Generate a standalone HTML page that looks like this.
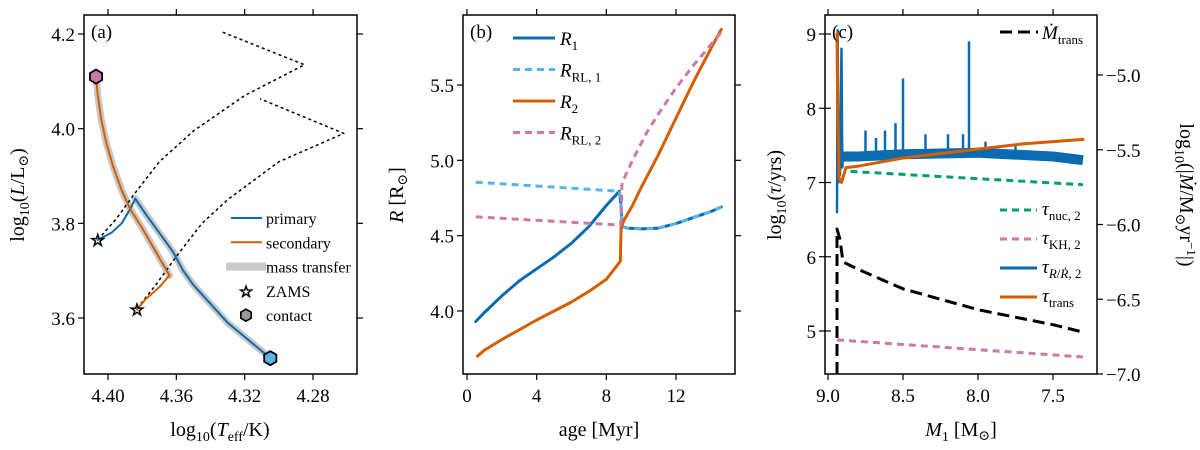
<!DOCTYPE html>
<html><head><meta charset="utf-8"><style>
body{margin:0;background:#fff}
svg{display:block}
text{font-family:"Liberation Serif","DejaVu Serif",serif;fill:#000}
</style></head><body>
<svg id="fig" width="1200" height="450" viewBox="0 0 1200 450" xmlns="http://www.w3.org/2000/svg"></svg>
<script>
// ---------- Panel (a) data ----------
const aPrimTeff=[4.406,4.398,4.392,4.387,4.384,4.378,4.370,4.362,4.356,4.350,4.340,4.330,4.320,4.310,4.305];
const aPrimL=[3.765,3.78,3.80,3.83,3.852,3.82,3.78,3.74,3.70,3.67,3.63,3.59,3.56,3.53,3.515];
const aSecTeff=[4.383,4.378,4.370,4.364,4.372,4.380,4.387,4.392,4.397,4.401,4.404,4.406,4.407];
const aSecL=[3.618,3.64,3.665,3.69,3.74,3.79,3.83,3.87,3.92,3.97,4.02,4.07,4.11];
const aDot1Teff=[4.406,4.395,4.385,4.37,4.35,4.32,4.285,4.333];
const aDot1L=[3.765,3.81,3.86,3.93,3.995,4.07,4.135,4.204];
const aDot2Teff=[4.383,4.372,4.36,4.345,4.33,4.30,4.262,4.311];
const aDot2L=[3.62,3.67,3.73,3.80,3.85,3.93,3.99,4.063];
const aXTicks=[4.40,4.36,4.32,4.28];
const aYTicks=[3.6,3.8,4.0,4.2];
// ---------- Panel (b) data ----------
const bR1Age=[0.5,1,2,3,4,5,6,7,8,8.75,8.85,8.9,9.2,10,11,12,13,14,14.6];
const bR1=[3.93,3.99,4.10,4.20,4.28,4.36,4.45,4.56,4.70,4.795,4.70,4.56,4.55,4.545,4.55,4.58,4.62,4.66,4.69];
const bRL1Age=[0.5,8.75,8.85,8.9,9.2,10,11,12,13,14,14.6];
const bRL1=[4.855,4.795,4.70,4.56,4.55,4.545,4.55,4.58,4.62,4.66,4.69];
const bR2Age=[0.6,1,2,4,6,7,8,8.8,8.85,9.0,9.5,10,11,12,13,14,14.6];
const bR2=[3.70,3.74,3.81,3.94,4.06,4.13,4.21,4.33,4.55,4.60,4.70,4.82,5.04,5.28,5.52,5.74,5.87];
const bRL2Age=[0.5,8.8,8.85,8.9,9.5,10.3,11,12,13,14.6];
const bRL2=[4.625,4.57,4.6,4.85,5.0,5.18,5.31,5.48,5.63,5.85];
const bXTicks=[0,4,8,12];
const bYTicks=[4.0,4.5,5.0,5.5];
// ---------- Panel (c) data ----------
const cNucM=[8.85,7.3];
const cNuc=[7.15,6.97];
const cKHM=[8.94,7.3];
const cKH=[4.88,4.65];
const cTransM=[8.94,8.935,8.925,8.91,8.88,8.8,8.5,8.0,7.7,7.3];
const cTrans=[9.0,8.0,7.05,7.0,7.2,7.22,7.33,7.45,7.52,7.58];
const cRM=[8.94,8.935,8.93,8.925,8.92,8.91,8.905,8.9];
const cR=[6.6,9.05,7.0,7.5,7.1,8.8,7.2,7.35];
const cBandM=[8.9,8.8,8.5,8.0,7.5,7.3];
const cBand=[7.35,7.35,7.38,7.4,7.35,7.3];
const cSpikeM=[8.75,8.68,8.62,8.55,8.5,8.35,8.2,8.1,8.06,7.95,7.75];
const cSpikeV=[7.7,7.6,7.7,7.8,8.4,7.65,7.65,7.65,8.9,7.55,7.5];
const cMdotM=[8.94,8.94,8.92,8.9,8.8,8.5,8.0,7.5,7.3];
const cMdot=[-7.0,-6.03,-6.1,-6.25,-6.3,-6.43,-6.57,-6.67,-6.72];
const cXTicks=[9.0,8.5,8.0,7.5];
const cYTicks=[5,6,7,8,9];
const cY2Ticks=[-7.0,-6.5,-6.0,-5.5,-5.0];

const NS="http://www.w3.org/2000/svg";
const svg=document.getElementById('fig');
function el(tag,attrs,parent){const e=document.createElementNS(NS,tag);for(const k in attrs)e.setAttribute(k,attrs[k]);(parent||svg).appendChild(e);return e;}
function lin(d0,d1,p0,p1){return v=>p0+(v-d0)/(d1-d0)*(p1-p0);}
function pathD(xs,ys,sx,sy){return xs.map((x,i)=>(i?'L':'M')+sx(x).toFixed(1)+','+sy(ys[i]).toFixed(1)).join('');}
function frame(x0,y0,x1,y1,name){
  const r=el('rect',{x:x0,y:y0,width:x1-x0,height:y1-y0,fill:'none',stroke:'#000','stroke-width':1.5});
  
  
}
function xticks(vals,sx,y0,y1,fmt,name){
  vals.forEach(v=>{const x=sx(v);
    el('line',{x1:x,x2:x,y1:y0,y2:y0-6,stroke:'#000','stroke-width':1.2});
    el('line',{x1:x,x2:x,y1:y1,y2:y1+6,stroke:'#000','stroke-width':1.2});
    const t=el('text',{x:x,y:y1+28,'font-size':19,'text-anchor':'middle'});t.textContent=fmt(v);
    
    
  });
}
function yticks(vals,sy,x0,x1,fmt,name,labelRight){
  vals.forEach(v=>{const y=sy(v);
    el('line',{x1:x0,x2:x0-6,y1:y,y2:y,stroke:'#000','stroke-width':1.2});
    el('line',{x1:x1,x2:x1+6,y1:y,y2:y,stroke:'#000','stroke-width':1.2});
    if(fmt){const t=el('text',{x:labelRight?x1+10:x0-9,y:y+7,'font-size':19,'text-anchor':labelRight?'start':'end'});t.textContent=fmt(v);
    
    }
  });
}
function line(xs,ys,sx,sy,color,w,dash,name,extra){
  const p=el('path',Object.assign({d:pathD(xs,ys,sx,sy),fill:'none',stroke:color,'stroke-width':w,'stroke-linejoin':'round','stroke-linecap':dash?'butt':'round'},dash?{'stroke-dasharray':dash}:{},extra||{}));
  
  
  return p;
}
function label(x,y,html,size,name,rot,anchor){
  const t=el('text',{x:x,y:y,'font-size':size,'text-anchor':anchor||'middle'});
  if(rot)t.setAttribute('transform','rotate('+rot+' '+x+' '+y+')');
  t.innerHTML=html;
  
  
  return t;
}
const BLUE='#0a6bb0',ORANGE='#d55e00',LBLUE='#56b4e9',PINK='#cc79a7',GREEN='#009e73',GRAY='#c8c8c8';

// ================= Panel (a) =================
{
const X0=84,X1=357,Y0=15,Y1=374;
const sx=lin(4.40,4.28,108,313), sy=lin(3.6,4.2,318,34);
const clip=el('clipPath',{id:'ca'});el('rect',{x:X0,y:Y0,width:X1-X0,height:Y1-Y0},clip);
const g=el('g',{'clip-path':'url(#ca)'});


let p=line(aPrimTeff.slice(4),aPrimL.slice(4),sx,sy,GRAY,7,null,'primary-mass-transfer-band');g.appendChild(p);
p=line(aSecTeff.slice(3),aSecL.slice(3),sx,sy,GRAY,7,null,'secondary-mass-transfer-band');g.appendChild(p);
p=line(aDot1Teff,aDot1L,sx,sy,'#000',1.5,'3,3','primary-dotted-track');g.appendChild(p);
p=line(aDot2Teff,aDot2L,sx,sy,'#000',1.5,'3,3','secondary-dotted-track');g.appendChild(p);
p=line(aPrimTeff,aPrimL,sx,sy,BLUE,2,null,'primary-track');g.appendChild(p);
p=line(aSecTeff,aSecL,sx,sy,ORANGE,2,null,'secondary-track');g.appendChild(p);
function hex(cx,cy,fill,name){const pts=[];for(let i=0;i<6;i++){const a=Math.PI/3*i+Math.PI/6;pts.push((cx+7*Math.cos(a)).toFixed(1)+','+(cy+7*Math.sin(a)).toFixed(1));}
 const h=el('polygon',{points:pts.join(' '),fill:fill,stroke:'#000','stroke-width':1.8},g);
 
 }
function star(cx,cy,name){const s=el('text',{x:cx,y:cy+6,'font-size':17,'text-anchor':'middle'},g);s.textContent='☆';s.setAttribute('stroke','#000');s.setAttribute('stroke-width','1');
 
 }
hex(sx(aSecTeff[aSecTeff.length-1]),sy(aSecL[aSecL.length-1]),PINK,'secondary-contact-marker');
hex(sx(aPrimTeff[aPrimTeff.length-1]),sy(aPrimL[aPrimL.length-1]),LBLUE,'primary-contact-marker');
star(sx(aPrimTeff[0]),sy(aPrimL[0]),'primary-zams-marker');
star(sx(aSecTeff[0]),sy(aSecL[0]),'secondary-zams-marker');
frame(X0,Y0,X1,Y1,'panel-a');
xticks(aXTicks,sx,Y0,Y1,v=>v.toFixed(2),'panel-a-x');
yticks(aYTicks,sy,X0,X1,v=>v.toFixed(1),'panel-a-y');
label(91,38,'(a)',19,'panel-a-label',0,'start');
label(220,436,'log<tspan font-size="14" dy="5">10</tspan><tspan dy="-5">(</tspan><tspan font-style="italic">T</tspan><tspan font-size="14" dy="5">eff</tspan><tspan dy="-5">/K)</tspan>',20,'panel-a-x-title');
label(24,195,'log<tspan font-size="14" dy="5">10</tspan><tspan dy="-5">(</tspan><tspan font-style="italic">L</tspan>/L<tspan font-size="14" dy="4">⊙</tspan><tspan dy="-4">)</tspan>',20,'panel-a-y-title',-90);
const lg=el('g',{});
const items=[['primary','line',BLUE],['secondary','line',ORANGE],['mass transfer','band',GRAY],['ZAMS','star'],['contact','hex']];
items.forEach((it,i)=>{const y=218+i*24.3;
 if(it[1]==='line'){el('line',{x1:231,x2:262,y1:y,y2:y,stroke:it[2],'stroke-width':2},lg);}
 else if(it[1]==='band'){el('rect',{x:226,y:y-4,width:40,height:8,fill:GRAY},lg);}
 else if(it[1]==='star'){const s=el('text',{x:246,y:y+6,'font-size':16,'text-anchor':'middle','stroke':'#000','stroke-width':1},lg);s.textContent='☆';}
 else {const pts=[];for(let k=0;k<6;k++){const a=Math.PI/3*k+Math.PI/6;pts.push((246+6*Math.cos(a)).toFixed(1)+','+(y+6*Math.sin(a)).toFixed(1));}el('polygon',{points:pts.join(' '),fill:'#999',stroke:'#000','stroke-width':1.6},lg);}
 const t=el('text',{x:266,y:y+6,'font-size':16},lg);t.textContent=it[0];
 
 
});
}

// ================= Panel (b) =================
{
const X0=463,X1=735,Y0=15,Y1=374;
const sx=lin(0,12,467,676), sy=lin(4.0,5.5,311,85);
frame(X0,Y0,X1,Y1,'panel-b');
line(bR1Age,bR1,sx,sy,BLUE,3,null,'r1-line');
line(bRL1Age,bRL1,sx,sy,LBLUE,3,'7,5','rl1-line');
line(bR2Age,bR2,sx,sy,ORANGE,3,null,'r2-line');
line(bRL2Age,bRL2,sx,sy,PINK,3,'7,5','rl2-line');
xticks(bXTicks,sx,Y0,Y1,v=>String(v),'panel-b-x');
yticks(bYTicks,sy,X0,X1,v=>v.toFixed(1),'panel-b-y');
label(470,38,'(b)',19,'panel-b-label',0,'start');
label(599,436,'age [Myr]',20,'panel-b-x-title');
label(403,195,'<tspan font-style="italic">R</tspan> [R<tspan font-size="14" dy="4">⊙</tspan><tspan dy="-4">]</tspan>',20,'panel-b-y-title',-90);
const lg=el('g',{});
const items=[['R','1',BLUE,null],['R','RL, 1',LBLUE,'7,5'],['R','2',ORANGE,null],['R','RL, 2',PINK,'7,5']];
items.forEach((it,i)=>{const y=38+i*31.5;
 const l=el('line',{x1:513,x2:555,y1:y,y2:y,stroke:it[2],'stroke-width':3},lg);if(it[3])l.setAttribute('stroke-dasharray',it[3]);
 const t=el('text',{x:560,y:y+7,'font-size':19},lg);t.innerHTML='<tspan font-style="italic">'+it[0]+'</tspan><tspan font-size="13" dy="5">'+it[1]+'</tspan>';
 
 
});
}

// ================= Panel (c) =================
{
const X0=825,X1=1097,Y0=15,Y1=374;
const sx=lin(9.0,7.5,828,1053), sy=lin(5,9,331,34), sy2=lin(-7.0,-5.0,374,75);
const clip=el('clipPath',{id:'cc'});el('rect',{x:X0,y:Y0,width:X1-X0,height:Y1-Y0},clip);
const g=el('g',{'clip-path':'url(#cc)'});


g.appendChild(line(cNucM,cNuc,sx,sy,GREEN,3,'7,5','tau-nuc-line'));
g.appendChild(line(cKHM,cKH,sx,sy,PINK,3,'7,5','tau-kh-line'));
g.appendChild(line(cRM,cR,sx,sy,BLUE,2.5,null,'tau-r-line'));
g.appendChild(line(cBandM,cBand,sx,sy,BLUE,10,null,'tau-r-band',{'stroke-linecap':'butt'}));
cSpikeM.forEach((m,i)=>{
 let j=0;while(j<cBandM.length-1&&cBandM[j+1]>m)j++;
 const f=(m-cBandM[j])/(cBandM[j+1]-cBandM[j]);const base=cBand[j]+f*(cBand[j+1]-cBand[j]);
 const s=el('line',{x1:sx(m),x2:sx(m),y1:sy(base),y2:sy(cSpikeV[i]),stroke:BLUE,'stroke-width':2.5},g);
 
 
});
g.appendChild(line(cTransM,cTrans,sx,sy,ORANGE,3,null,'tau-trans-line'));
g.appendChild(line(cMdotM,cMdot,sx,sy2,'#000',3,'12,6','mdot-trans-line'));
frame(X0,Y0,X1,Y1,'panel-c');
xticks(cXTicks,sx,Y0,Y1,v=>v.toFixed(1),'panel-c-x');
yticks(cYTicks,sy,X0,X0,v=>String(v),'panel-c-y');
cY2Ticks.forEach(v=>{const y=sy2(v);
 el('line',{x1:X1,x2:X1+6,y1:y,y2:y,stroke:'#000','stroke-width':1.2});
 const t=el('text',{x:X1+9,y:y+7,'font-size':19});t.textContent='−'+Math.abs(v).toFixed(1);
 
 });
label(832,38,'(c)',19,'panel-c-label',0,'start');
label(961,436,'<tspan font-style="italic">M</tspan><tspan font-size="14" dy="5">1</tspan><tspan dy="-5"> [M</tspan><tspan font-size="14" dy="4">⊙</tspan><tspan dy="-4">]</tspan>',20,'panel-c-x-title');
label(781,195,'log<tspan font-size="14" dy="5">10</tspan><tspan dy="-5">(</tspan><tspan font-style="italic">τ</tspan>/yrs)',20,'panel-c-y-title',-90);
label(1180,195,'log<tspan font-size="14" dy="5">10</tspan><tspan dy="-5">(|</tspan><tspan font-style="italic">Ṁ</tspan>/M<tspan font-size="14" dy="4">⊙</tspan><tspan dy="-4">yr</tspan><tspan font-size="13" dy="-7">−1</tspan><tspan dy="7">|)</tspan>',20,'panel-c-y2-title',90);
const lg=el('g',{});
el('line',{x1:1000,x2:1038,y1:32,y2:32,stroke:'#000','stroke-width':3,'stroke-dasharray':'12,6'},lg);
let t=el('text',{x:1042,y:39,'font-size':19},lg);t.innerHTML='<tspan font-style="italic">Ṁ</tspan><tspan font-size="13" dy="5">trans</tspan>';


const items=[['nuc, 2',GREEN,'7,5'],['KH, 2',PINK,'7,5'],['<tspan font-style="italic">R</tspan>/<tspan font-style="italic">Ṙ</tspan>, 2',BLUE,null],['trans',ORANGE,null]];
items.forEach((it,i)=>{const y=210+i*29;
 const l=el('line',{x1:1000,x2:1037,y1:y,y2:y,stroke:it[1],'stroke-width':3},lg);if(it[2])l.setAttribute('stroke-dasharray',it[2]);
 const tt=el('text',{x:1042,y:y+5,'font-size':19},lg);tt.innerHTML='<tspan font-style="italic">τ</tspan><tspan font-size="13" dy="5">'+it[0]+'</tspan>';
 
 
});
}
</script>
</body></html>
